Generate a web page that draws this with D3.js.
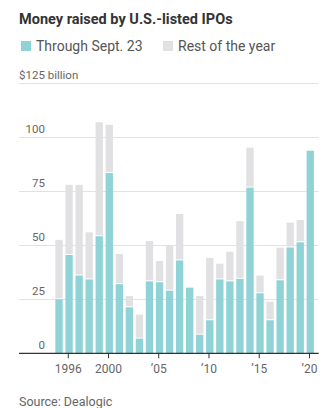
<!DOCTYPE html>
<html>
<head>
<meta charset="utf-8">
<script src="https://d3js.org/d3.v7.min.js"></script>
<style>
  body { margin: 0; background: #fff; }
  text { font-family: Roboto, "Noto Sans", sans-serif; }
</style>
</head>
<body>
<div id="chart"></div>
<script>
// IPO proceeds, $ billions
var years = d3.range(1995, 2021);
var throughSept = [25, 45.5, 36, 34.2, 54.2, 83.5, 32, 21.3, 6.8, 33.3, 32.9, 29, 43,
                   30.4, 8.6, 15.3, 34.2, 33.3, 34.5, 76.7, 27.8, 15.3, 33.8, 49, 51.4, 93.8];
var restOfYear = [27.5, 32.5, 42, 21.8, 52.8, 22.3, 14, 5.2, 11.1, 18.7, 9.8, 21, 21.5,
                  0, 17.9, 28.9, 7.3, 13.7, 26.7, 18.5, 8.2, 8.6, 15.1, 11.5, 10.3, 0];
var yTicks = [0, 25, 50, 75, 100, 125];
var xTickYears = [1996, 2000, 2005, 2010, 2015, 2020];

var W = 335, H = 408;
var teal = "#8fd3d6", grey = "#e1e1e3";

var svg = d3.select("#chart").append("svg")
    .attr("width", W)
    .attr("height", H);

var x = d3.scaleBand()
    .domain(years)
    .range([54, 315.3])
    .paddingInner(0.27)
    .paddingOuter(0.135);

var y = d3.scaleLinear()
    .domain([0, 125])
    .range([353.3, 83.3]);

// title + legend
svg.append("text")
    .attr("x", 19).attr("y", 24)
    .attr("font-size", 14.5).attr("font-weight", "bold")
    .attr("fill", "#333")
    .text("Money raised by U.S.-listed IPOs");

var legend = [{label: "Through Sept. 23", color: teal, x: 21},
              {label: "Rest of the year", color: grey, x: 163}];
var lg = svg.selectAll(".lg").data(legend).enter().append("g")
    .attr("transform", function(d) { return "translate(" + d.x + ",41)"; });
lg.append("rect").attr("width", 10).attr("height", 10).attr("fill", function(d) { return d.color; });
lg.append("text")
    .attr("x", 15).attr("y", 10)
    .attr("font-size", 14).attr("fill", "#555")
    .text(function(d) { return d.label; });

// grid
svg.append("g").selectAll("line")
    .data(yTicks.slice(1)).enter().append("line")
    .attr("x1", 19).attr("x2", 318.7)
    .attr("y1", function(d) { return Math.round(y(d)) + 0.5; })
    .attr("y2", function(d) { return Math.round(y(d)) + 0.5; })
    .attr("stroke", "#e2e2e2");

svg.append("g").selectAll("text")
    .data(yTicks).enter().append("text")
    .attr("x", function(d) { return d === 125 ? 19 : 45; })
    .attr("y", function(d) { return y(d) - 4; })
    .attr("text-anchor", function(d) { return d === 125 ? "start" : "end"; })
    .attr("font-size", 11.5).attr("fill", "#666")
    .text(function(d) { return d === 125 ? "$125 billion" : d; });

// bars
var rows = years.map(function(yr, i) {
  return {year: yr, a: throughSept[i], b: restOfYear[i]};
});

var bars = svg.append("g").selectAll("g").data(rows).enter().append("g");
bars.append("rect")
    .attr("x", function(d) { return x(d.year); })
    .attr("width", x.bandwidth())
    .attr("y", function(d) { return y(d.a); })
    .attr("height", function(d) { return y(0) - y(d.a); })
    .attr("fill", teal);
bars.filter(function(d) { return d.b > 0; }).append("rect")
    .attr("x", function(d) { return x(d.year); })
    .attr("width", x.bandwidth())
    .attr("y", function(d) { return y(d.a + d.b); })
    .attr("height", function(d) { return Math.max(0, y(d.a) - y(d.a + d.b) - 1); })
    .attr("fill", grey);

// x axis
var xAxis = svg.append("g")
    .attr("transform", "translate(0," + y(0) + ")");
xAxis.append("line")
    .attr("x1", 19).attr("x2", 318.7)
    .attr("stroke", "#333").attr("stroke-width", 1.2);
var xt = xAxis.selectAll(".xt").data(xTickYears).enter().append("g")
    .attr("transform", function(d) { return "translate(" + (x(d) + x.bandwidth() / 2 - 0.8) + ",0)"; });
xt.append("line").attr("y2", 5).attr("stroke", "#333");
xt.append("text")
    .attr("y", 20).attr("text-anchor", "middle")
    .attr("font-size", 12).attr("fill", "#666")
    .text(function(d) { return d < 2001 ? d : "\u2019" + String(d).slice(2); });

svg.append("text")
    .attr("x", 19).attr("y", 406)
    .attr("font-size", 12.5).attr("fill", "#666")
    .text("Source: Dealogic");
</script>
</body>
</html>
